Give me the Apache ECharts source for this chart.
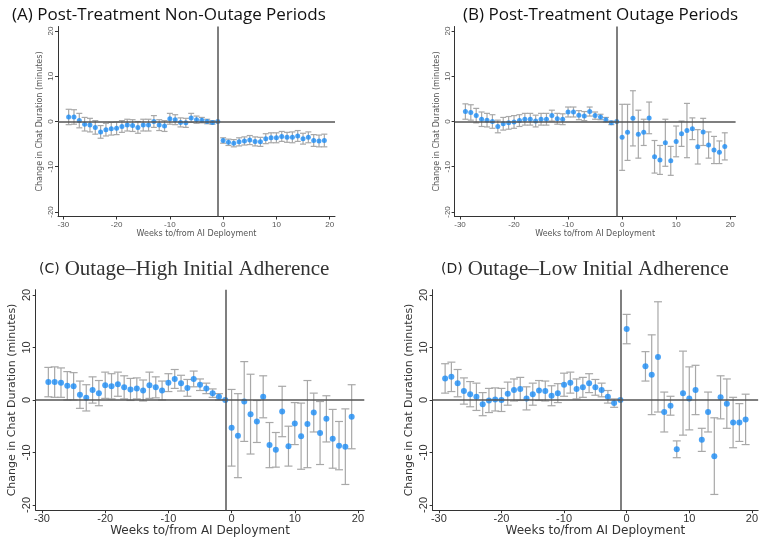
<!DOCTYPE html>
<html><head><meta charset="utf-8">
<script src="https://cdn.jsdelivr.net/npm/echarts@6/dist/echarts.min.js"></script>
<style>html,body{margin:0;padding:0;background:#fff}#c{width:761px;height:544px}</style>
</head><body><div id="c"></div>
<script>
'use strict';

var weeks = [];
for (var w = -29; w <= 19; w++) weeks.push(w);

// panel A: post-treatment non-outage periods
var valA = [1.0,1.0,0.2,-0.6,-0.8,-1.3,-2.3,-1.8,-1.6,-1.5,-1.1,-0.8,-0.9,-1.3,-0.8,-0.8,0,-0.8,-1.0,0.6,0.4,-0.2,-0.3,0.8,0.4,0.3,0,-0.2,0,
  -4.2,-4.6,-4.8,-4.5,-4.3,-4.1,-4.4,-4.5,-3.8,-3.6,-3.6,-3.3,-3.5,-3.5,-3.2,-3.8,-3.5,-4.2,-4.3,-4.2];
var errA = [1.7,1.6,1.6,1.5,1.5,1.5,1.4,1.4,1.4,1.4,1.3,1.3,1.3,1.3,1.3,1.3,1.3,1.2,1.2,1.2,1.1,1.0,1.0,1.0,0.8,0.6,0.5,0.4,0,
  0.6,0.7,0.8,0.9,0.9,1.0,1.0,1.0,1.1,1.1,1.1,1.1,1.1,1.2,1.2,1.2,1.2,1.3,1.3,1.4];

// panel B: post-treatment outage periods
var valB = [2.2,2.0,1.3,0.5,0.3,0,-1.1,-0.5,-0.3,-0.1,0.2,0.5,0.5,0.1,0.5,0.5,1.3,0.6,0.5,2.1,2.1,1.4,1.2,2.2,1.3,1.0,0.4,-0.3,0,
  -3.5,-2.4,0.7,-2.8,-2.4,0.8,-7.8,-8.5,-4.7,-8.7,-4.4,-2.7,-2.0,-1.6,-5.6,-2.3,-5.2,-6.3,-6.8,-5.5];
var errB = [1.7,1.7,1.6,1.6,1.5,1.5,1.4,1.4,1.4,1.4,1.3,1.3,1.3,1.3,1.3,1.3,1.2,1.2,1.2,1.1,1.1,1.0,1.0,1.0,0.8,0.6,0.5,0.4,0,
  7.3,6.2,6.1,5.3,2.9,3.5,3.6,3.2,5.2,3.2,3.4,2.8,6.0,2.4,3.8,3.0,2.9,3.0,2.5,3.0];

// panel C: outage, high initial adherence
var valC = [3.4,3.4,3.3,2.7,2.6,1.0,0.4,1.9,1.3,2.8,2.6,3.0,2.4,2.0,2.2,1.8,2.8,2.4,1.8,3.3,4.0,3.2,2.3,4.0,2.9,2.2,1.3,0.6,0,
  -5.3,-6.8,-0.3,-2.7,-4.1,0.6,-8.6,-9.5,-2.2,-8.8,-4.5,-6.9,-4.6,-2.4,-6.3,-3.6,-7.4,-8.7,-8.9,-3.2];
var errC = [2.8,2.9,2.8,2.7,2.6,2.6,2.5,2.5,2.4,2.5,2.4,2.3,2.2,2.1,2.0,2.0,2.5,2.0,1.8,1.7,1.8,1.5,1.6,1.5,1.1,1.0,0.8,0.6,0,
  7.3,8.0,7.6,7.6,4.0,4.0,4.3,3.3,4.8,3.8,4.0,6.3,8.3,3.7,6.0,4.4,5.6,4.6,7.2,6.1];

// panel D: outage, low initial adherence (weeks 1 and 2 missing)
var valD = [4.1,4.4,3.2,1.7,1.1,0.6,-0.8,-0.1,0.1,0,1.2,1.9,2.1,0.3,1.1,1.8,1.7,0.8,1.3,2.9,3.3,2.1,2.4,3.2,2.4,1.9,0.6,-0.6,0,
  13.5,null,null,6.4,4.8,8.2,-2.3,-1.1,-9.4,1.3,0.3,1.9,-7.6,-2.3,-10.7,0.5,-0.7,-4.3,-4.3,-3.7];
var errD = [2.8,2.8,2.6,2.5,2.4,2.6,2.2,2.3,2.2,2.2,2.2,2.1,2.2,2.2,2.1,1.9,1.9,1.9,1.8,2.2,2.0,1.9,1.9,1.8,1.5,1.3,1.2,0.8,0,
  2.8,null,null,2.8,7.6,10.5,3.8,1.8,1.6,8.0,6.0,4.7,2.2,3.8,7.3,4.1,4.7,4.8,3.6,4.8];

var xTicks = [-30, -20, -10, 0, 10, 20];
var yTicks = [-20, -10, 0, 10, 20];

var panels = [
  {vals: valA, errs: errA, grid: {left: 58, top: 26.5, width: 277, height: 190}, small: true},
  {vals: valB, errs: errB, grid: {left: 454.6, top: 26.5, width: 281, height: 190}, small: true},
  {vals: valC, errs: errC, grid: {left: 35.7, top: 289.7, width: 328.6, height: 220.5}, small: false},
  {vals: valD, errs: errD, grid: {left: 432.6, top: 289.7, width: 331.8, height: 220.5}, small: false}
];

var grids = [], xAxes = [], yAxes = [], series = [];
panels.forEach(function (p, i) {
  var fs = p.small ? 8 : 11;
  var col = p.small ? '#555' : '#333';
  grids.push(p.grid);
  xAxes.push({
    type: 'value', gridIndex: i, min: -31, max: 21,
    name: 'Weeks to/from AI Deployment', nameLocation: 'middle', nameGap: p.small ? 13 : 12,
    nameTextStyle: {fontSize: p.small ? 8 : 12, color: col, fontFamily: 'DejaVu Sans'},
    axisLine: {onZero: false, lineStyle: {color: '#333', width: 1}},
    axisTick: {length: 3, lineStyle: {color: '#333'}, customValues: xTicks},
    axisLabel: {fontSize: fs, color: col, margin: p.small ? 4 : 3, customValues: xTicks},
    splitLine: {show: false}
  });
  yAxes.push({
    type: 'value', gridIndex: i, min: -21, max: 21,
    name: 'Change in Chat Duration (minutes)', nameLocation: 'middle', nameGap: p.small ? 14 : 18,
    nameTextStyle: {fontSize: p.small ? 8 : 11, color: col, fontFamily: 'DejaVu Sans'},
    axisLine: {show: true, onZero: false, lineStyle: {color: '#333', width: 1}},
    axisTick: {show: true, length: 3, lineStyle: {color: '#333'}, customValues: yTicks},
    axisLabel: {fontSize: fs, color: col, rotate: 90, margin: 3, customValues: yTicks},
    splitLine: {show: false}
  });
  var pts = weeks.map(function (wk, k) { return [wk, p.vals[k], p.errs[k]]; })
    .filter(function (d) { return d[1] !== null; });
  var cap = p.small ? 3 : 4;
  series.push({
    type: 'custom', xAxisIndex: i, yAxisIndex: i, data: pts, z: 2,
    renderItem: function (params, api) {
      var x = api.value(0), v = api.value(1), e = api.value(2);
      if (!e) return null;
      var lo = api.coord([x, v - e]), hi = api.coord([x, v + e]);
      var st = {stroke: '#a8a8a8', lineWidth: 1.2};
      return {type: 'group', children: [
        {type: 'line', shape: {x1: lo[0], y1: lo[1], x2: hi[0], y2: hi[1]}, style: st},
        {type: 'line', shape: {x1: lo[0] - cap, y1: lo[1], x2: lo[0] + cap, y2: lo[1]}, style: st},
        {type: 'line', shape: {x1: hi[0] - cap, y1: hi[1], x2: hi[0] + cap, y2: hi[1]}, style: st}
      ]};
    },
    encode: {x: 0, y: 1}
  });
  series.push({
    type: 'scatter', xAxisIndex: i, yAxisIndex: i, data: pts, z: 3,
    symbolSize: p.small ? 5 : 6, itemStyle: {color: '#1b8cf5'},
    markLine: {
      silent: true, symbol: 'none', label: {show: false},
      lineStyle: {color: '#555', width: 1.5, type: 'solid'},
      data: [{xAxis: -1}, {yAxis: 0}]
    }
  });
});

var chart = echarts.init(document.getElementById('c'));
chart.setOption({
  animation: false,
  title: [
    {text: '(A) Post-Treatment Non-Outage Periods', left: 7, top: 2,
      textStyle: {fontSize: 17, fontWeight: 'normal', color: '#111', fontFamily: 'Open Sans'}},
    {text: '(B) Post-Treatment Outage Periods', left: 458, top: 2,
      textStyle: {fontSize: 17, fontWeight: 'normal', color: '#111', fontFamily: 'Open Sans'}},
    {text: '{a|(C)} {b|Outage\u2013High Initial Adherence}', left: 34, top: 254,
      textStyle: {rich: {a: {fontSize: 14, fontFamily: 'DejaVu Sans', color: '#222', fontWeight: 'normal'},
        b: {fontSize: 21, fontFamily: 'Liberation Serif', color: '#333', fontWeight: 'normal'}}}},
    {text: '{a|(D)} {b|Outage\u2013Low Initial Adherence}', left: 436, top: 254,
      textStyle: {rich: {a: {fontSize: 14, fontFamily: 'DejaVu Sans', color: '#222', fontWeight: 'normal'},
        b: {fontSize: 21, fontFamily: 'Liberation Serif', color: '#333', fontWeight: 'normal'}}}}
  ],
  grid: grids, xAxis: xAxes, yAxis: yAxes, series: series
});
</script>
</body></html>
